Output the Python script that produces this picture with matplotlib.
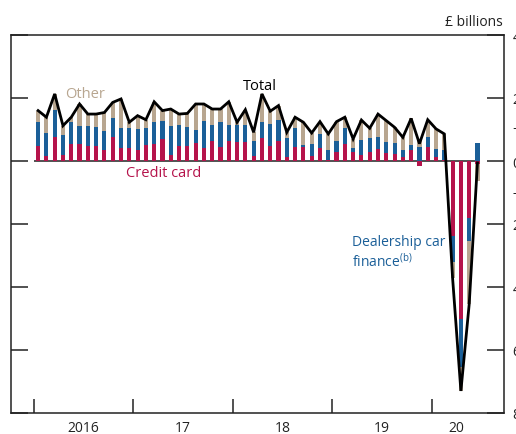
import numpy as np
import matplotlib
matplotlib.use('Agg')
import matplotlib.pyplot as plt

plt.rcParams['font.family'] = ['Open Sans', 'DejaVu Sans']

# monthly net flows, Jan 2016 - Jun 2020 (£ billions)
credit_card = [0.47, 0.15, 0.77, 0.19, 0.53, 0.53, 0.49, 0.47, 0.36, 0.77, 0.41, 0.40,
               0.36, 0.51, 0.54, 0.70, 0.19, 0.47, 0.47, 0.56, 0.40, 0.63, 0.43, 0.63,
               0.61, 0.59, 0.15, 0.72, 0.47, 0.65, 0.12, 0.43, 0.43, 0.15, 0.40, 0.04,
               0.30, 0.53, 0.30, 0.19, 0.30, 0.38, 0.24, 0.22, 0.12, 0.35, -0.15, 0.43,
               0.12, 0.04, -2.37, -5.02, -1.82, -0.08]
car_finance = [0.76, 0.74, 0.86, 0.63, 0.70, 0.59, 0.63, 0.60, 0.60, 0.61, 0.63, 0.65,
               0.66, 0.53, 0.71, 0.56, 0.93, 0.66, 0.62, 0.43, 0.87, 0.51, 0.81, 0.52,
               0.54, 0.55, 0.50, 0.51, 0.69, 0.66, 0.60, 0.62, 0.07, 0.39, 0.46, 0.32,
               0.35, 0.51, 0.12, 0.49, 0.42, 0.39, 0.37, 0.34, 0.23, 0.16, 0.46, 0.32,
               0.26, 0.30, -0.85, -1.53, -0.71, 0.57]
other = [0.37, 0.50, 0.50, 0.30, 0.16, 0.69, 0.37, 0.42, 0.58, 0.48, 0.93, 0.18,
         0.42, 0.27, 0.63, 0.34, 0.53, 0.36, 0.42, 0.82, 0.54, 0.51, 0.41, 0.73,
         0.08, 0.49, 0.26, 0.90, 0.42, 0.45, 0.19, 0.34, 0.73, 0.35, 0.39, 0.50,
         0.60, 0.35, 0.28, 0.62, 0.32, 0.72, 0.67, 0.51, 0.40, 0.84, 0.20, 0.56,
         0.64, 0.52, -0.50, -0.75, -2.02, -0.55]
total = [1.60, 1.39, 2.13, 1.12, 1.39, 1.81, 1.49, 1.49, 1.54, 1.86, 1.97, 1.23,
         1.44, 1.31, 1.88, 1.60, 1.65, 1.49, 1.51, 1.81, 1.81, 1.65, 1.65, 1.88,
         1.23, 1.63, 0.91, 2.13, 1.58, 1.76, 0.91, 1.39, 1.23, 0.89, 1.25, 0.86,
         1.25, 1.39, 0.70, 1.30, 1.04, 1.49, 1.28, 1.07, 0.75, 1.35, 0.55, 1.31,
         1.02, 0.86, -3.72, -7.30, -4.55, -0.06]

year_labels = ['2016', '17', '18', '19', '20']
year_label_pos = [6, 18, 30, 42, 51]
year_ticks = [0, 12, 24, 36, 48]

red = '#b5134b'
blue = '#1b5f98'
beige = '#b8a690'

x = np.arange(len(total)) + 0.5

fig = plt.figure(figsize=(5.16, 4.35), dpi=100)
ax = fig.add_axes([11 / 516, 21 / 435, 493 / 516, 378 / 435])

pos_base = np.zeros(len(x))
neg_base = np.zeros(len(x))
for vals, col in [(credit_card, red), (car_finance, blue), (other, beige)]:
    vals = np.array(vals)
    base = np.where(vals >= 0, pos_base, neg_base)
    ax.bar(x, vals, width=0.5, bottom=base, color=col, linewidth=0, zorder=2)
    pos_base = pos_base + np.clip(vals, 0, None)
    neg_base = neg_base + np.clip(vals, None, 0)

ax.hlines(0, 0, 53.8, color='#333333', linewidth=1.2, zorder=1)
ax.plot(x, total, color='black', linewidth=2.0, zorder=3,
        solid_joinstyle='miter')

ax.set_xlim(-2.77, 56.7)
ax.set_ylim(-8, 4)

# y axis on the right, BoE style
yt = [4, 2, 0, -2, -4, -6, -8]
ax.yaxis.tick_right()
ax.set_yticks(yt)
ax.set_yticklabels([str(abs(v)) for v in yt])
ax.tick_params(axis='y', which='both', direction='in', length=12, width=1.1,
               left=True, right=True, labelleft=False, labelright=True,
               pad=6, labelsize=10, colors='#222222')
for v, s in [(1, '+'), (-1, '\u2013')]:
    ax.text(1.017, v, s, transform=ax.get_yaxis_transform(), ha='left',
            va='center', fontsize=10, color='#222222')

ax.set_xticks(year_ticks)
ax.set_xticklabels([])
ax.tick_params(axis='x', direction='in', length=10, width=1.1,
               bottom=True, top=False, colors='#222222')
for lab, p in zip(year_labels, year_label_pos):
    ax.text(p, -8.45, lab, ha='center', va='center', fontsize=10, color='#222222')

for s in ax.spines.values():
    s.set_linewidth(1.1)
    s.set_color('#222222')

fig.text(503 / 516, 1 - 22 / 435, '\u00a3 billions', ha='right', va='center',
         fontsize=10, color='#222222')

ax.text(6.2, 2.13, 'Other', color=beige, fontsize=10.5, ha='center', va='center')
ax.text(27.3, 2.41, 'Total', color='black', fontsize=10.5, ha='center', va='center')
ax.text(15.6, -0.38, 'Credit card', color=red, fontsize=10.5, ha='center', va='center')
ax.text(38.4, -2.57, 'Dealership car', color=blue, fontsize=10, ha='left', va='center')
ax.text(38.4, -3.17, 'finance$^{\\mathregular{(b)}}$', color=blue, fontsize=10,
        ha='left', va='center')

fig.savefig('out.png', dpi=100)
